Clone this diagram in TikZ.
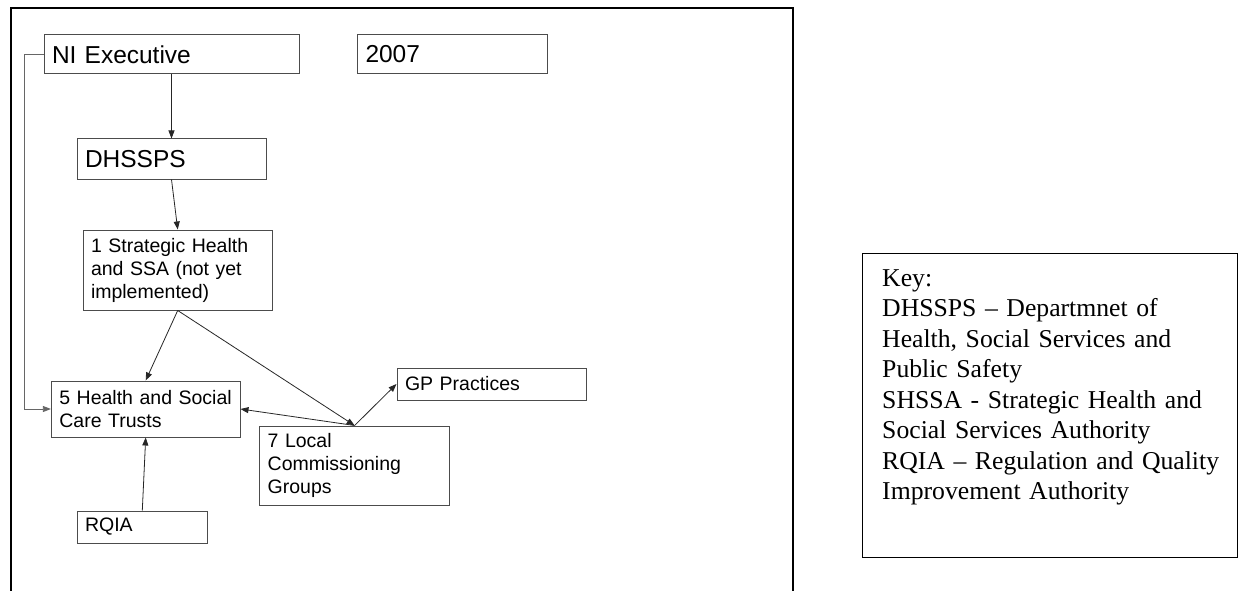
\documentclass[tikz,border=0pt]{standalone}
\usepackage{fontspec}
\setmainfont{Liberation Serif}
\newfontfamily\arialfont{Liberation Sans}
\usetikzlibrary{arrows.meta}
\tikzset{
  box/.style={draw=black!70, line width=1pt, rectangle, inner xsep=8pt, inner ysep=0pt, align=left, anchor=center},
  bigtxt/.style={font=\arialfont\fontsize{24.5pt}{28pt}\selectfont},
  smalltxt/.style={font=\arialfont\fontsize{19.5pt}{23pt}\selectfont},
  conn/.style={draw=black!85, line width=0.8pt, -{Triangle[length=8pt,width=6pt]}},
  frame/.style={draw=black, line width=2pt},
  keybox/.style={draw=black, line width=1.3pt, rectangle, inner sep=0pt, minimum width=375pt, minimum height=304pt, anchor=north west},
  keytxt/.style={font=\fontsize{25.7pt}{30.5pt}\selectfont, inner sep=0pt, text width=352pt, align=left, anchor=base west}
}
\begin{document}
\begin{tikzpicture}[x=1pt, y=-1pt]
\useasboundingbox (0,0) rectangle (1239,591);
% outer frame (open at the bottom)
\draw[frame] (11,595) -- (11,8) -- (793,8) -- (793,595);
% boxes
\node[box, bigtxt, text width=239pt, minimum height=39pt] (ni) at (171.5,54.5) {NI Executive};
\node[box, bigtxt, text width=174pt, minimum height=39pt] (yr) at (452.5,54.5) {2007};
\node[box, bigtxt, text width=173pt, minimum height=40pt] (dh) at (171.5,159) {DHSSPS};
\node[box, smalltxt, text width=173.4pt, minimum height=80pt] (sha) at (177.7,270) {1 Strategic Health\\and SSA (not yet\\implemented)};
\node[box, smalltxt, text width=172.6pt, minimum height=56pt] (tr) at (145.7,409) {5 Health and Social\\Care Trusts};
\node[box, smalltxt, text width=173.8pt, minimum height=79pt] (lc) at (354.6,465.5) {7 Local\\Commissioning\\Groups};
\node[box, smalltxt, text width=173pt, minimum height=32pt] (gp) at (491.5,384) {GP Practices};
\node[box, smalltxt, text width=114.5pt, minimum height=32pt] (rq) at (142.3,527) {RQIA};
% connectors
\draw[conn] (ni.south) -- (dh.north);
\draw[conn] (dh.south) -- (sha.north);
\draw[conn] (sha.south) -- (tr.north);
\draw[conn] (sha.south) -- (lc.north);
\draw[conn] (lc.north) -- (tr.east);
\draw[conn] (lc.north) -- (gp.west);
\draw[conn] (rq.north) -- (tr.south);
\draw[conn, draw=black!60] (ni.west) -- ++(-19,0) |- (tr.west);
% key
\node[keybox] (key) at (862,253) {};
\node[keytxt] (keyt) at (882,286) {Key:\\DHSSPS – Departmnet of\\Health, Social Services and\\Public Safety\\SHSSA - Strategic Health and\\Social Services Authority\\RQIA – Regulation and Quality\\Improvement Authority};
\end{tikzpicture}
\end{document}
